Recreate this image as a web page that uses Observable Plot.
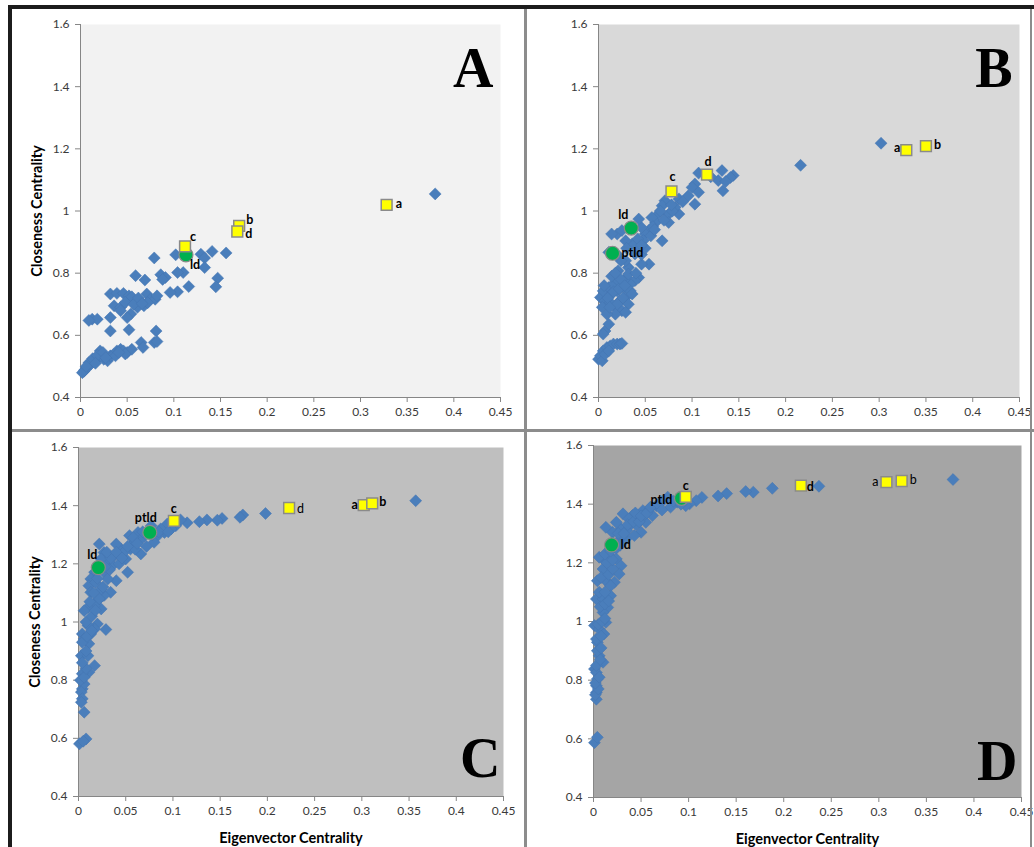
<!DOCTYPE html>
<html><head><meta charset="utf-8">
<script src="https://cdn.jsdelivr.net/npm/d3@7"></script>
<script src="https://cdn.jsdelivr.net/npm/@observablehq/plot@0.6"></script>
<style>
body{margin:0;background:#fff;}
#wrap{position:relative;width:1034px;height:847px;overflow:hidden;background:#fff;font-family:Lato,sans-serif;}
.panel{position:absolute;}
.panel svg{overflow:visible;}
.line{position:absolute;}
g[aria-label="y-axis label"] text, g[aria-label="x-axis label"] text{font-weight:bold;font-size:14.5px;fill:#000;}
g[aria-label="y-axis tick label"] text, g[aria-label="x-axis tick label"] text{font-size:12px;}
</style></head><body><div id="wrap"></div>
<script>
// ---------- DATA ----------
const xTicks = [0, 0.05, 0.1, 0.15, 0.2, 0.25, 0.3, 0.35, 0.4, 0.45];
const yTicks = [0.4, 0.6, 0.8, 1, 1.2, 1.4, 1.6];
const panelLetters = ["A", "B", "C", "D"];
const xTitle = "Eigenvector Centrality";
const yTitle = "Closeness Centrality";

const panelA_points = [[0.380,1.055],
[0.156,0.865],[0.141,0.870],[0.129,0.861],[0.133,0.849],[0.133,0.818],[0.102,0.859],[0.079,0.849],
[0.147,0.784],[0.145,0.756],[0.116,0.757],[0.110,0.802],[0.104,0.802],[0.104,0.740],[0.096,0.738],
[0.086,0.795],[0.091,0.786],[0.088,0.780],[0.059,0.792],[0.069,0.778],
[0.081,0.614],[0.079,0.577],[0.082,0.580],[0.065,0.577],[0.067,0.561],[0.052,0.618],[0.032,0.614],[0.032,0.657],[0.0125,0.652],[0.018,0.652],[0.009,0.648],
[0.032,0.733],[0.039,0.735],[0.046,0.735],[0.052,0.727],[0.036,0.695],[0.043,0.690],[0.048,0.706],[0.055,0.724],[0.059,0.706],[0.064,0.711],[0.071,0.733],[0.075,0.716],[0.080,0.716],[0.068,0.695],[0.061,0.690],[0.054,0.669],[0.050,0.657],[0.043,0.679],[0.082,0.727],[0.057,0.700],[0.062,0.720],[0.072,0.705],[0.066,0.702],
[0.004,0.485],[0.007,0.496],[0.011,0.507],[0.014,0.516],[0.018,0.523],[0.021,0.534],[0.021,0.550],[0.025,0.523],[0.029,0.518],[0.032,0.534],[0.036,0.539],[0.039,0.550],[0.043,0.555],[0.046,0.550],[0.050,0.545],[0.055,0.555],[0.0375,0.534],[0.005,0.490],[0.009,0.512],[0.002,0.480],[0.013,0.525],[0.018,0.535],[0.024,0.545],[0.048,0.540],[0.041,0.545],[0.027,0.528],[0.016,0.510],[0.006,0.500]];
const panelA_names = ["ld", "a", "b", "d", "c"];
const panelA_x = [0.113, 0.328, 0.170, 0.168, 0.112];
const panelA_y = [0.859, 1.020, 0.952, 0.934, 0.886];

const panelB_points = [[0.302,1.218],[0.216,1.147],
[0.144,1.114],[0.141,1.108],[0.132,1.130],[0.133,1.065],[0.128,1.098],[0.136,1.095],[0.107,1.122],[0.120,1.110],
[0.103,1.087],[0.100,1.076],[0.107,1.060],[0.103,1.022],[0.096,1.049],[0.086,1.039],[0.086,0.990],[0.082,1.012],
[0.075,0.990],[0.075,0.963],[0.071,1.033],[0.068,1.017],[0.064,0.990],[0.061,0.963],[0.057,0.979],[0.054,0.937],
[0.050,0.926],[0.046,0.947],[0.043,0.974],[0.068,0.904],[0.054,0.829],[0.046,0.829],[0.043,0.883],[0.039,0.862],
[0.036,0.894],[0.029,0.904],[0.020,0.926],[0.025,0.937],[0.014,0.926],[0.032,0.818],[0.021,0.808],[0.029,0.840],
[0.043,0.786],[0.039,0.776],[0.034,0.765],[0.011,0.867],[0.048,0.905],[0.058,0.950],[0.066,1.000],[0.079,1.000],
[0.002,0.722],[0.005,0.743],[0.007,0.711],[0.011,0.754],[0.0125,0.706],[0.014,0.733],[0.016,0.765],[0.018,0.690],
[0.020,0.743],[0.021,0.776],[0.023,0.711],[0.025,0.679],[0.027,0.754],[0.029,0.722],[0.030,0.786],[0.032,0.700],
[0.034,0.743],[0.036,0.733],[0.018,0.668],[0.029,0.674],[0.004,0.690],[0.009,0.668],[0.014,0.790],[0.032,0.797],
[0.006,0.760],[0.010,0.720],[0.016,0.740],[0.022,0.750],[0.026,0.720],[0.020,0.700],[0.012,0.690],[0.024,0.780],
[0.018,0.800],[0.028,0.760],[0.040,0.800],[0.046,0.860],[0.050,0.880],[0.056,0.920],[0.060,0.940],[0.070,0.970],
[0.078,1.020],[0.090,1.030],[0.024,0.840],[0.020,0.860],[0.030,0.880],[0.042,0.910],[0.046,0.890],
[0.007,0.614],[0.011,0.636],[0.005,0.604],
[0.000,0.523],[0.002,0.534],[0.004,0.518],[0.005,0.550],[0.009,0.561],[0.0125,0.566],[0.016,0.572],[0.020,0.572],
[0.023,0.572],[0.025,0.574],[0.007,0.539],[0.011,0.550]];
const panelB_names = ["ld", "ptld", "a", "b", "d", "c"];
const panelB_x = [0.035, 0.015, 0.329, 0.350, 0.116, 0.078];
const panelB_y = [0.945, 0.864, 1.196, 1.209, 1.117, 1.063];

const panelC_points = [[0.357,1.417],[0.198,1.373],[0.174,1.368],[0.171,1.360],[0.152,1.356],[0.147,1.350],[0.136,1.351],
[0.128,1.345],[0.115,1.341],[0.108,1.351],[0.103,1.331],[0.098,1.320],[0.094,1.337],[0.091,1.308],[0.087,1.320],
[0.084,1.297],[0.080,1.274],[0.077,1.331],[0.070,1.297],[0.066,1.234],[0.063,1.308],[0.059,1.274],[0.055,1.251],
[0.054,1.297],[0.050,1.217],[0.052,1.171],[0.045,1.251],[0.040,1.268],[0.038,1.228],[0.036,1.194],[0.040,1.142],
[0.031,1.217],[0.027,1.239],[0.022,1.268],[0.024,1.217],[0.027,1.171],[0.031,1.148],[0.034,1.102],[0.027,1.091],
[0.024,1.113],[0.017,1.171],[0.013,1.148],[0.011,1.125],[0.020,1.073],[0.024,1.045],[0.017,1.056],[0.010,1.050],
[0.006,1.039],[0.029,0.974],[0.020,0.993],[0.017,0.976],[0.013,0.959],[0.010,0.988],[0.004,0.959],[0.006,0.942],
[0.011,0.925],[0.003,0.884],[0.010,0.884],[0.017,0.850],[0.011,0.827],[0.004,0.822],[0.003,0.799],[0.004,0.770],
[0.006,0.787],[0.003,0.759],[0.004,0.736],[0.003,0.724],[0.006,0.690],[0.008,0.598],[0.001,0.581],[0.005,0.590],
[0.013,1.102],[0.018,1.136],[0.043,1.200],[0.048,1.240],[0.065,1.280],[0.072,1.260],[0.060,1.250],[0.033,1.180],
[0.002,0.800],[0.006,0.810],[0.008,0.840],[0.004,0.860],[0.008,0.900],[0.004,0.930],[0.009,0.950],[0.014,0.970],
[0.008,1.000],[0.014,1.020],[0.018,1.040],[0.012,1.070],[0.022,1.080],[0.016,1.100],[0.026,1.120],[0.020,1.150],
[0.028,1.190],[0.034,1.220],[0.030,1.240],[0.040,1.240],[0.046,1.220],[0.052,1.260],[0.058,1.290],[0.068,1.310],
[0.078,1.300],[0.085,1.310],[0.095,1.310],[0.062,1.270]];
const panelC_names = ["ld", "ptld", "a", "b", "d", "c"];
const panelC_x = [0.021, 0.0755, 0.302, 0.311, 0.223, 0.101];
const panelC_y = [1.187, 1.308, 1.402, 1.408, 1.392, 1.348];

const panelD_points = [[0.378,1.484],[0.237,1.461],[0.188,1.454],[0.168,1.441],[0.160,1.443],[0.140,1.436],[0.131,1.428],
[0.114,1.423],[0.108,1.412],[0.101,1.401],[0.097,1.395],[0.088,1.407],[0.081,1.390],[0.078,1.424],[0.073,1.412],
[0.066,1.395],[0.062,1.361],[0.059,1.384],[0.055,1.338],[0.052,1.378],[0.050,1.304],[0.046,1.350],[0.043,1.293],
[0.041,1.361],[0.038,1.327],[0.034,1.281],[0.031,1.367],[0.029,1.316],[0.024,1.338],[0.025,1.270],[0.020,1.304],
[0.013,1.321],[0.017,1.225],[0.024,1.213],[0.029,1.190],[0.027,1.162],[0.022,1.134],[0.010,1.213],[0.006,1.219],
[0.010,1.179],[0.004,1.139],[0.013,1.139],[0.018,1.122],[0.003,1.077],[0.010,1.077],[0.018,1.088],[0.015,1.048],
[0.010,1.031],[0.013,0.997],[0.001,0.986],[0.006,0.974],[0.011,0.957],[0.004,0.929],[0.006,0.883],[0.010,0.861],
[0.001,0.838],[0.003,0.826],[0.004,0.804],[0.003,0.781],[0.003,0.758],[0.003,0.735],[0.001,0.587],[0.004,0.605],
[0.045,1.330],[0.037,1.350],[0.054,1.365],[0.030,1.290],[0.035,1.310],
[0.002,0.750],[0.005,0.770],[0.002,0.790],[0.006,0.810],[0.003,0.850],[0.007,0.870],[0.004,0.900],[0.008,0.910],
[0.003,0.940],[0.008,0.950],[0.005,0.990],[0.009,1.000],[0.012,1.010],[0.007,1.050],[0.012,1.060],[0.016,1.070],
[0.006,1.100],[0.012,1.100],[0.008,1.150],[0.016,1.160],[0.020,1.180],[0.014,1.200],[0.020,1.210],[0.012,1.230],
[0.018,1.240],[0.024,1.250],[0.028,1.260],[0.020,1.270],[0.026,1.300],[0.032,1.300],[0.036,1.330],[0.042,1.340],
[0.048,1.340],[0.044,1.370],[0.050,1.360],[0.056,1.370],[0.060,1.390],[0.068,1.400],[0.072,1.380],[0.084,1.410],
[0.092,1.400]];
const panelD_names = ["ld", "ptld", "a", "b", "d", "c"];
const panelD_x = [0.019, 0.0925, 0.308, 0.324, 0.218, 0.097];
const panelD_y = [1.261, 1.420, 1.475, 1.479, 1.463, 1.425];

// ---------- STYLE ----------
const labelStyle = {
  A: {a:[9,-1,"start","bold"], b:[7,-6,"start","bold"], d:[8,2,"start","bold"], c:[5,-9,"start","bold"], ld:[4,10,"start","bold"]},
  B: {a:[-6,-2,"end","bold"], b:[8,-1,"start","bold"], d:[1,-13,"middle","bold"], c:[1,-14,"middle","bold"], ld:[-8,-13,"middle","bold"], ptld:[9,0,"start","bold"]},
  C: {a:[-6,0,"end","bold"], b:[7,-1,"start","bold"], d:[8,1,"start","normal"], c:[0,-12,"middle","bold"], ptld:[-4,-14,"middle","bold"], ld:[-6,-13,"middle","bold"]},
  D: {a:[-8,0,"end","normal"], b:[8,-1,"start","normal"], d:[6,1,"start","bold"], c:[0,-11,"middle","bold"], ptld:[-9,2,"end","bold"], ld:[9,0,"start","bold"]}
};

const panels = [
  {letter:"A", pts:panelA_points, names:panelA_names, hx:panelA_x, hy:panelA_y, bg:"#f2f2f2",
   left:12, top:10, width:510, height:415, m:[14,22,28,68], yLab:true, xLab:false, letterPos:["top-right",-7,23]},
  {letter:"B", pts:panelB_points, names:panelB_names, hx:panelB_x, hy:panelB_y, bg:"#d9d9d9",
   left:528, top:10, width:502, height:415, m:[14,11,28,70], yLab:false, xLab:false, letterPos:["top-right",-7,23]},
  {letter:"C", pts:panelC_points, names:panelC_names, hx:panelC_x, hy:panelC_y, bg:"#bfbfbf",
   left:12, top:434, width:510, height:412, m:[13,19,50,66], yLab:true, xLab:true, letterPos:["top-right",-3,290]},
  {letter:"D", pts:panelD_points, names:panelD_names, hx:panelD_x, hy:panelD_y, bg:"#a5a5a5",
   left:528, top:434, width:502, height:412, m:[11,9,49,65], yLab:false, xLab:true, letterPos:["top-right",-4,295]}
];

const fmt = d => String(+d.toFixed(2));
const wrap = document.getElementById("wrap");

for (const p of panels) {
  const pts = p.pts.map(([x, y]) => ({x, y}));
  const hl = p.names.map((n, i) => ({name: n, x: p.hx[i], y: p.hy[i]}));
  const circles = hl.filter(d => d.name === "ld" || d.name === "ptld");
  const squares = hl.filter(d => !(d.name === "ld" || d.name === "ptld"));
  const styles = labelStyle[p.letter];
  const labelMarks = hl.map(d => {
    const [dx, dy, anchor, weight] = styles[d.name];
    return Plot.text([d], {x: "x", y: "y", text: "name", dx, dy, textAnchor: anchor,
      fontWeight: weight, fontSize: 12.5, fill: "#000", fontFamily: "Lato"});
  });
  const chart = Plot.plot({
    width: p.width, height: p.height,
    marginTop: p.m[0], marginRight: p.m[1], marginBottom: p.m[2], marginLeft: p.m[3],
    style: {fontFamily: "Lato, sans-serif", background: "transparent", overflow: "visible"},
    x: {domain: [0, 0.45]},
    y: {domain: [0.4, 1.6]},
    marks: [
      Plot.frame({fill: p.bg, stroke: null}),
      Plot.axisX({ticks: xTicks, tickFormat: fmt, tickSize: 5, tickPadding: 5, stroke: "#868686", fill: "#3a3a3a",
        label: p.xLab ? xTitle : null, labelAnchor: "center", labelArrow: "none", labelOffset: 46}),
      Plot.axisY({ticks: yTicks, tickFormat: fmt, tickSize: 5, tickPadding: 6, stroke: "#868686", fill: "#3a3a3a",
        label: p.yLab ? yTitle : null, labelAnchor: "center", labelArrow: "none", labelOffset: 49}),
      Plot.ruleX([0], {stroke: "#868686"}),
      Plot.ruleY([0.4], {stroke: "#868686"}),
      Plot.dot(pts, {x: "x", y: "y", symbol: "diamond2", r: 5.4, fill: "#4a7ebb", stroke: "#4475b0", strokeWidth: 0.5}),
      Plot.dot(circles, {x: "x", y: "y", symbol: "circle", r: 7, fill: "#00b050", stroke: "#8a8a8a", strokeWidth: 1.2}),
      Plot.dot(squares, {x: "x", y: "y", symbol: "square", r: 6.1, fill: "#ffff00", stroke: "#8a8a8a", strokeWidth: 1.5}),
      ...labelMarks,
      Plot.text([p.letter], {text: d => d, frameAnchor: p.letterPos[0], dx: p.letterPos[1], dy: p.letterPos[2],
        lineAnchor: "top", textAnchor: "end", fontFamily: "Liberation Serif", fontWeight: "bold", fontSize: 56, fill: "#000"})
    ]
  });
  const div = document.createElement("div");
  div.className = "panel";
  div.style.left = p.left + "px";
  div.style.top = p.top + "px";
  div.appendChild(chart);
  wrap.appendChild(div);
}

// panel frame lines
const lines = [
  {l:8, t:5, w:1026, h:4, c:"#1c1c1c"},
  {l:8, t:5, w:4, h:842, c:"#1c1c1c"},
  {l:524, t:9, w:3, h:838, c:"#8c8c8c"},
  {l:12, t:429, w:1022, h:3, c:"#8c8c8c"},
  {l:1030, t:9, w:2, h:838, c:"#8c8c8c"}
];
for (const ln of lines) {
  const d = document.createElement("div");
  d.className = "line";
  Object.assign(d.style, {left: ln.l + "px", top: ln.t + "px", width: ln.w + "px", height: ln.h + "px", background: ln.c});
  wrap.appendChild(d);
}
</script></body></html>
